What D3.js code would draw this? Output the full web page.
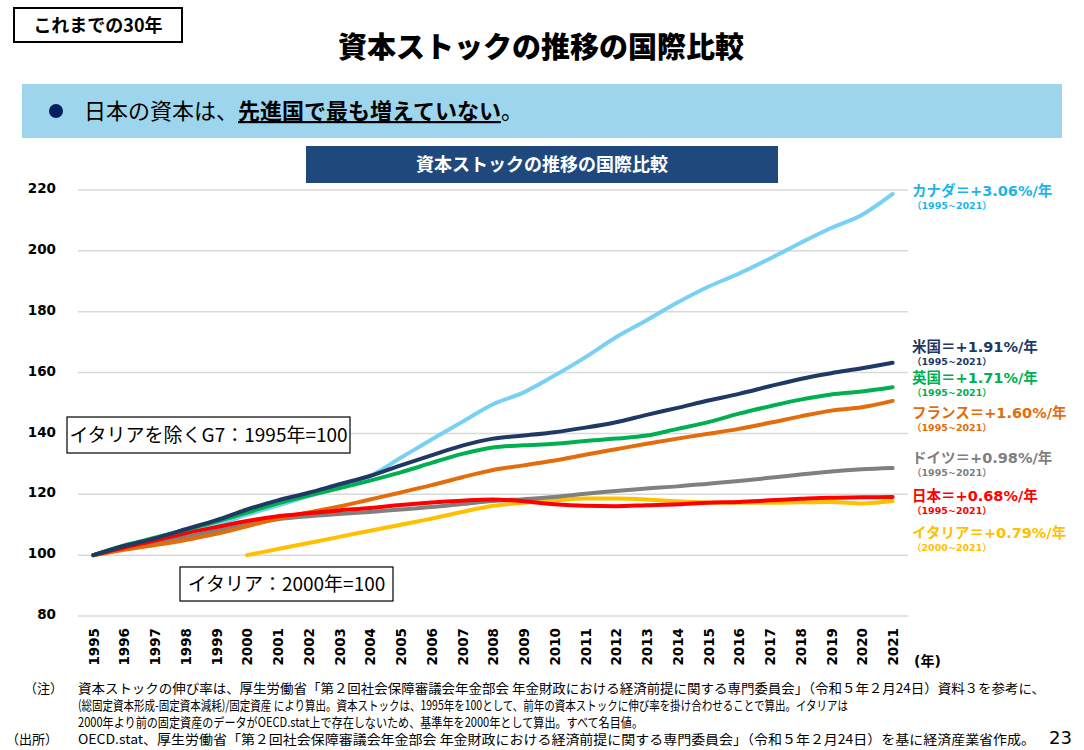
<!DOCTYPE html>
<html>
<head>
<meta charset="utf-8">
<script src="https://cdn.jsdelivr.net/npm/d3@7"></script>
<style>
  body { margin: 0; background: #fff; }
  svg { display: block; }
  .jp { font-family: "Noto Sans CJK JP", "Noto Sans", sans-serif; }
  .num { font-family: "DejaVu Sans", "Noto Sans CJK JP", sans-serif; }
</style>
</head>
<body>
<svg id="chart" width="1084" height="750"></svg>
<script>
var years = d3.range(1995, 2022);
var yTicks = [80, 100, 120, 140, 160, 180, 200, 220];

var canada  = [100, 102.5, 104.5, 107.5, 110, 113.3, 116.3, 119.4, 122.5, 126, 132, 138, 143.8, 149.6, 153.5, 159, 165, 171.6, 177.2, 183, 188.2, 192.5, 197.4, 202.6, 207.5, 211.8, 218.7];
var usa     = [100, 103, 105.5, 108.5, 111.5, 115, 118, 120.5, 123.3, 126, 129.5, 132.8, 136, 138.3, 139.3, 140.4, 141.9, 143.7, 146.1, 148.4, 150.8, 153, 155.5, 157.9, 159.8, 161.4, 163.2];
var uk      = [100, 103.2, 105.7, 108.3, 111, 114, 117, 119.6, 122, 124.5, 127.2, 130.3, 133.3, 135.4, 136.1, 136.6, 137.5, 138.3, 139.3, 141.5, 143.7, 146.5, 148.9, 151.1, 152.8, 153.8, 155.2];
var france  = [100, 101.8, 103.3, 105, 107, 109.5, 112, 114, 116, 118.3, 120.6, 123, 125.6, 128, 129.5, 131.1, 133, 134.8, 136.6, 138.3, 139.9, 141.5, 143.5, 145.6, 147.5, 148.6, 150.7];
var germany = [100, 102, 104, 106, 108, 110, 111.8, 112.8, 113.5, 114.2, 115, 115.8, 116.8, 117.8, 118.4, 119.1, 120.2, 121.1, 121.9, 122.6, 123.5, 124.4, 125.4, 126.5, 127.5, 128.2, 128.6];
var japan   = [100, 102.5, 104.8, 107.2, 109.2, 111.2, 112.8, 113.8, 114.7, 115.5, 116.5, 117.3, 117.9, 118.3, 117.7, 116.7, 116.2, 116.1, 116.4, 116.7, 117.2, 117.5, 118, 118.5, 118.9, 119, 119.1];
var italy   = [null, null, null, null, null, 100, 102, 104, 106, 108, 110, 112, 114.2, 116.2, 117.2, 118, 118.6, 118.6, 118.3, 117.7, 117.3, 117.2, 117.2, 117.4, 117.5, 117, 117.8];

var seriesNames = ["カナダ", "イタリア", "ドイツ", "フランス", "日本", "英国", "米国"];
var seriesValues = [canada, italy, germany, france, japan, uk, usa];
var lineColors = ["#78D0F5", "#FFC000", "#808080", "#E46C0A", "#FF0000", "#00B050", "#203864"];

var labelTexts = ["カナダ＝+3.06%/年", "米国＝+1.91%/年", "英国＝+1.71%/年", "フランス＝+1.60%/年", "ドイツ＝+0.98%/年", "日本＝+0.68%/年", "イタリア＝+0.79%/年"];
var labelPeriods = ["（1995~2021）", "（1995~2021）", "（1995~2021）", "（1995~2021）", "（1995~2021）", "（1995~2021）", "（2000~2021）"];
var labelColors = ["#1CB4EC", "#203864", "#00B050", "#E46C0A", "#7F7F7F", "#FF0000", "#FFC000"];

var notes = [
  "資本ストックの伸び率は、厚生労働省「第２回社会保障審議会年金部会 年金財政における経済前提に関する専門委員会」（令和５年２月24日）資料３を参考に、",
  "(総固定資本形成-固定資本減耗)/固定資産 により算出。資本ストックは、1995年を100として、前年の資本ストックに伸び率を掛け合わせることで算出。イタリアは",
  "2000年より前の固定資産のデータがOECD.stat上で存在しないため、基準年を2000年として算出。すべて名目値。",
  "OECD.stat、厚生労働省「第２回社会保障審議会年金部会 年金財政における経済前提に関する専門委員会」（令和５年２月24日）を基に経済産業省作成。"
];

var svg = d3.select("#chart");

// ---- header ----
svg.append("rect").attr("x", 14).attr("y", 8).attr("width", 168).attr("height", 34)
   .attr("fill", "#fff").attr("stroke", "#000").attr("stroke-width", 2);
svg.append("text").attr("class", "jp").attr("x", 98).attr("y", 32)
   .attr("text-anchor", "middle").attr("font-size", 18).attr("font-weight", 700)
   .text("これまでの30年");

svg.append("text").attr("class", "jp").attr("x", 541).attr("y", 58)
   .attr("text-anchor", "middle").attr("font-size", 29).attr("font-weight", 900)
   .text("資本ストックの推移の国際比較");

svg.append("rect").attr("x", 22).attr("y", 84).attr("width", 1040).attr("height", 54)
   .attr("fill", "#9DD6EC");
svg.append("circle").attr("cx", 56).attr("cy", 111).attr("r", 7).attr("fill", "#002060");
var banner = svg.append("text").attr("class", "jp").attr("x", 84).attr("y", 119)
   .attr("font-size", 22);
banner.append("tspan").text("日本の資本は、");
banner.append("tspan").attr("font-weight", 700).attr("text-decoration", "underline").text("先進国で最も増えていない");
banner.append("tspan").text("。");

svg.append("rect").attr("x", 306).attr("y", 146).attr("width", 472).attr("height", 37)
   .attr("fill", "#1F497D");
svg.append("text").attr("class", "jp").attr("x", 542).attr("y", 171)
   .attr("text-anchor", "middle").attr("font-size", 18).attr("font-weight", 700)
   .attr("fill", "#fff").text("資本ストックの推移の国際比較");

// ---- scales ----
var x = d3.scalePoint().domain(years).range([78, 908]).padding(0.5);
var y = d3.scaleLinear().domain([80, 220]).range([616, 190]);

// gridlines
svg.append("g").selectAll("line").data(yTicks).enter().append("line")
   .attr("x1", 78).attr("x2", 908)
   .attr("y1", function(d) { return y(d); }).attr("y2", function(d) { return y(d); })
   .attr("stroke", "#D9D9D9").attr("stroke-width", 1.5);

// y axis labels
var yAxis = svg.append("g").attr("transform", "translate(56,0)")
   .call(d3.axisLeft(y).tickValues(yTicks).tickSize(0).tickPadding(0));
yAxis.select(".domain").remove();
yAxis.selectAll("text").attr("class", "num").attr("font-size", 13.5).attr("font-weight", 700)
   .attr("fill", "#000").attr("dy", "0.2em");

// x axis labels (rotated, reading bottom to top)
var xAxis = svg.append("g").attr("transform", "translate(0,628)")
   .call(d3.axisBottom(x).tickSize(0).tickPadding(0));
xAxis.select(".domain").remove();
xAxis.selectAll("text").attr("class", "num").attr("font-size", 13.5).attr("font-weight", 700)
   .attr("fill", "#000")
   .attr("transform", "rotate(-90)")
   .attr("text-anchor", "end").attr("x", 0).attr("y", 0).attr("dy", "0.36em");
svg.append("text").attr("class", "num").attr("x", 914).attr("y", 666)
   .attr("font-size", 14).attr("font-weight", 700).text("(年)");

// ---- lines ----
var line = d3.line()
   .defined(function(d) { return d != null; })
   .x(function(d, i) { return x(years[i]); })
   .y(function(d) { return y(d); })
   .curve(d3.curveMonotoneX);

svg.append("g").selectAll("path").data(seriesValues).enter().append("path")
   .attr("d", line)
   .attr("fill", "none")
   .attr("stroke", function(d, i) { return lineColors[i]; })
   .attr("stroke-width", 4)
   .attr("stroke-linecap", "round")
   .attr("stroke-linejoin", "round");

// ---- annotation boxes ----
function noteBox(x0, y0, w, h, txt) {
   svg.append("rect").attr("x", x0).attr("y", y0).attr("width", w).attr("height", h)
      .attr("fill", "#fff").attr("stroke", "#000").attr("stroke-width", 1.2);
   svg.append("text").attr("class", "jp").attr("x", x0 + w / 2).attr("y", y0 + h / 2 + 7)
      .attr("text-anchor", "middle").attr("font-size", 19).text(txt);
}
noteBox(67, 417, 283, 36, "イタリアを除くG7：1995年=100");
noteBox(180, 567, 213, 34, "イタリア：2000年=100");

// ---- right labels ----
var labelBase = [196, 352, 383, 418, 463, 501, 538];
var lbl = svg.append("g");
labelTexts.forEach(function(t, i) {
   lbl.append("text").attr("class", "num").attr("x", 912).attr("y", labelBase[i])
      .attr("font-size", 14.5).attr("font-weight", 700).attr("fill", labelColors[i]).text(t);
   lbl.append("text").attr("class", "num").attr("x", 912).attr("y", labelBase[i] + 13)
      .attr("font-size", 9.5).attr("font-weight", 700).attr("fill", labelColors[i]).text(labelPeriods[i]);
});

// ---- footnotes ----
var noteEnds = [1045, 848, 643, 1035];
var noteBase = [693, 710, 727, 744];
svg.append("text").attr("class", "jp").attr("x", 24).attr("y", noteBase[0])
   .attr("font-size", 13).text("（注）");
svg.append("text").attr("class", "jp").attr("x", 6).attr("y", noteBase[3])
   .attr("font-size", 13).text("（出所）");
notes.forEach(function(t, i) {
   svg.append("text").attr("class", "jp").attr("x", 78).attr("y", noteBase[i])
      .attr("font-size", 13)
      .attr("textLength", noteEnds[i] - 78).attr("lengthAdjust", "spacingAndGlyphs")
      .text(t);
});
svg.append("text").attr("class", "num").attr("x", 1072).attr("y", 744)
   .attr("text-anchor", "end").attr("font-size", 18).text("23");
</script>
</body>
</html>
